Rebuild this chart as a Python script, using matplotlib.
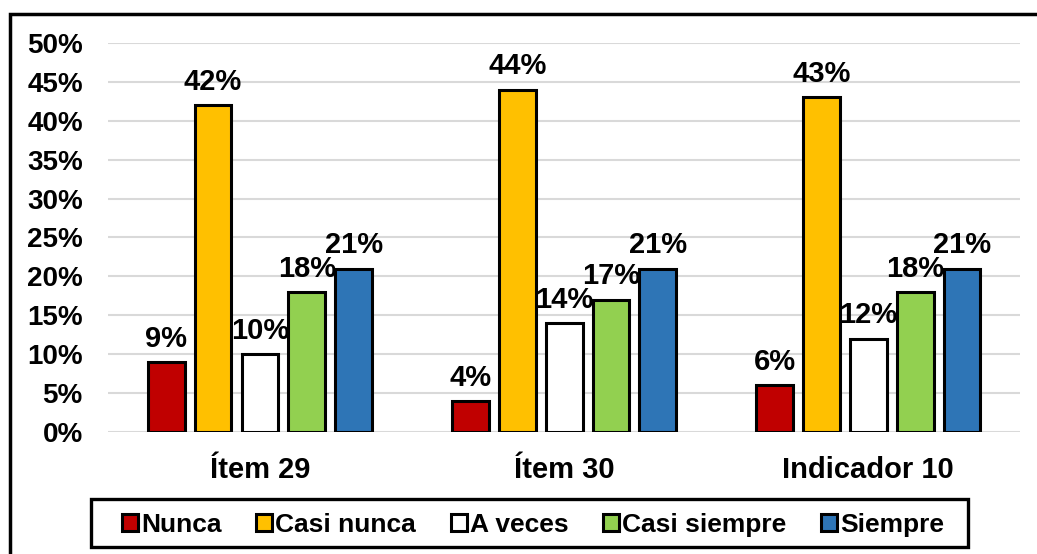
import matplotlib.pyplot as plt
import numpy as np
from matplotlib.patches import Rectangle

categories = ["Ítem 29", "Ítem 30", "Indicador 10"]
series = ["Nunca", "Casi nunca", "A veces", "Casi siempre", "Siempre"]
nunca = [9, 4, 6]
casi_nunca = [42, 44, 43]
a_veces = [10, 14, 12]
casi_siempre = [18, 17, 18]
siempre = [21, 21, 21]
colors = ["#C00000", "#FFC000", "#FFFFFF", "#92D050", "#2E75B6"]

plt.rcParams['font.family'] = ['Liberation Sans', 'DejaVu Sans']
plt.rcParams['font.weight'] = 'bold'

fig = plt.figure(figsize=(10.37, 5.54), dpi=100)
ax = fig.add_axes([0.104, 0.2202, 0.880, 0.7022])

values = [nunca, casi_nunca, a_veces, casi_siempre, siempre]
x = np.arange(len(categories))
step = 0.154
width = 0.121
for i, (name, vals) in enumerate(zip(series, values)):
    pos = x + (i - 2) * step
    v = np.array(vals) / 100
    ax.bar(pos, v, width, color=colors[i], edgecolor="black", linewidth=2.2,
           label=name, zorder=3)
    for p, val in zip(pos, vals):
        ax.text(p, val / 100 + 0.012, f"{val}%", ha="center", va="bottom",
                fontsize=21, fontweight="bold", zorder=4)

ax.set_xlim(-0.5, 2.5)
ax.set_ylim(0, 0.5)
ax.set_yticks(np.arange(0, 0.51, 0.05))
ax.set_yticklabels([f"{int(round(t * 100))}%" for t in np.arange(0, 0.51, 0.05)])
ax.set_xticks(x)
ax.set_xticklabels(categories)
ax.tick_params(axis="y", length=0, labelsize=20, pad=18)
ax.tick_params(axis="x", length=0, labelsize=21, pad=17)
ax.grid(axis="y", color="#d9d9d9", linewidth=1.5, zorder=0)
for s in ax.spines.values():
    s.set_visible(False)

leg = ax.legend(loc="center", bbox_to_anchor=(0.466, -0.238), ncol=5,
                frameon=False, fontsize=19, handlelength=0.6,
                handleheight=0.6, handletextpad=0.12, columnspacing=1.32,
                borderpad=0.3)
for h in leg.legend_handles:
    h.set_linewidth(2.2)

# legend box and outer chart border
fig.patches.append(Rectangle((91 / 1037, 1 - 547 / 554), 877 / 1037, 48 / 554,
                             transform=fig.transFigure, fill=False,
                             edgecolor="black", linewidth=2.4))
fig.patches.append(Rectangle((10 / 1037, -0.1), 1.2, 1 - 14 / 554 + 0.1,
                             transform=fig.transFigure, fill=False,
                             edgecolor="black", linewidth=2.5))

fig.savefig("out.png", dpi=100)
